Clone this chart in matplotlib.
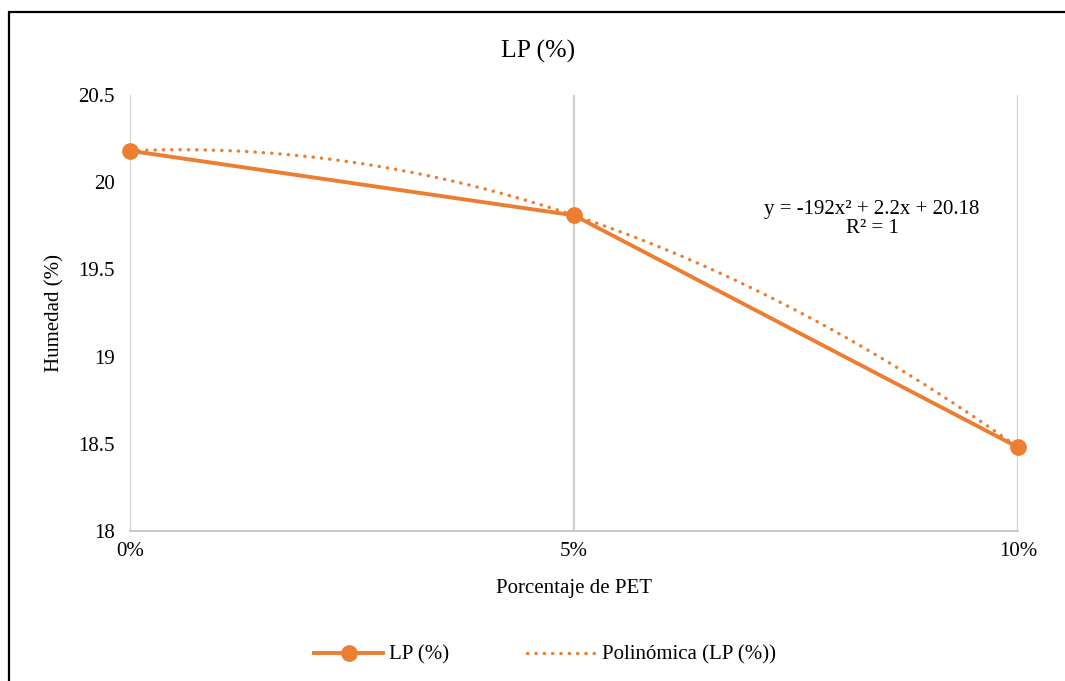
import numpy as np
import matplotlib
matplotlib.use("Agg")
import matplotlib.pyplot as plt
from matplotlib.patches import Rectangle

pet = [0.00, 0.05, 0.10]
etiquetas = ["0%", "5%", "10%"]
humedad = [20.18, 19.81, 18.48]

naranja = "#ED7D31"
plt.rcParams['font.family'] = ['Liberation Serif', 'DejaVu Serif']
fs = 15

fig = plt.figure(figsize=(10.65, 6.81), dpi=100)
ax = fig.add_axes([130/1065, 1-531/681, 888/1065, 436/681])

# tendencia polinómica de grado 2
coef = np.polyfit(pet, humedad, 2)
xs = np.linspace(pet[0], pet[-1], 200)
ax.plot(xs, np.polyval(coef, xs), color=naranja, lw=2.4,
        linestyle=(0, (0.1, 2.4)), dash_capstyle='round', label="Polinómica (LP (%))")
ax.plot(pet, humedad, color=naranja, lw=2.8, marker='o', markersize=11,
        label="LP (%)")

ax.set_xlim(0, 0.10)
ax.set_ylim(18, 20.5)
ax.set_xticks(pet)
ax.set_xticklabels(etiquetas)
ax.set_yticks([18, 18.5, 19, 19.5, 20, 20.5])
ax.set_yticklabels(["18", "18.5", "19", "19.5", "20", "20.5"])
ax.tick_params(length=0, labelsize=fs)
ax.tick_params(axis='y', pad=11)
ax.tick_params(axis='x', pad=8)
for s in ['top', 'right', 'left']:
    ax.spines[s].set_visible(False)
ax.spines['bottom'].set_color('#BFBFBF')
ax.spines['bottom'].set_linewidth(1.2)
ax.xaxis.grid(True, color='#D0D0D0', lw=1.5)
ax.set_axisbelow(True)
for l in ax.lines:
    l.set_clip_on(False)

fig.text(538/1065, 1-51/681, "LP (%)", ha='center', va='center', fontsize=18.5)
fig.text(55/1065, 1-313/681, "Humedad (%)", ha='center', va='center',
         rotation=90, fontsize=fs)
fig.text(574/1065, 1-588/681, "Porcentaje de PET", ha='center', va='center', fontsize=fs)
fig.text(872/1065, 1-219/681, "y = -192x² + 2.2x + 20.18\nR² = 1", ha='center',
         va='center', fontsize=fs, linespacing=1.0, multialignment='center')

h, l = ax.get_legend_handles_labels()
fig.legend(h[::-1], l[::-1], loc='center', bbox_to_anchor=(545/1065, 1-655/681),
           ncol=2, frameon=False, fontsize=fs, handlelength=3.3,
           handletextpad=0.3, columnspacing=3.7)

fig.patches.append(Rectangle((8.5/1065, -0.1), 1.2, 1.1 - 11.5/681,
                             transform=fig.transFigure, fill=False,
                             edgecolor='black', lw=1.6))

fig.savefig("out.png", dpi=100)
